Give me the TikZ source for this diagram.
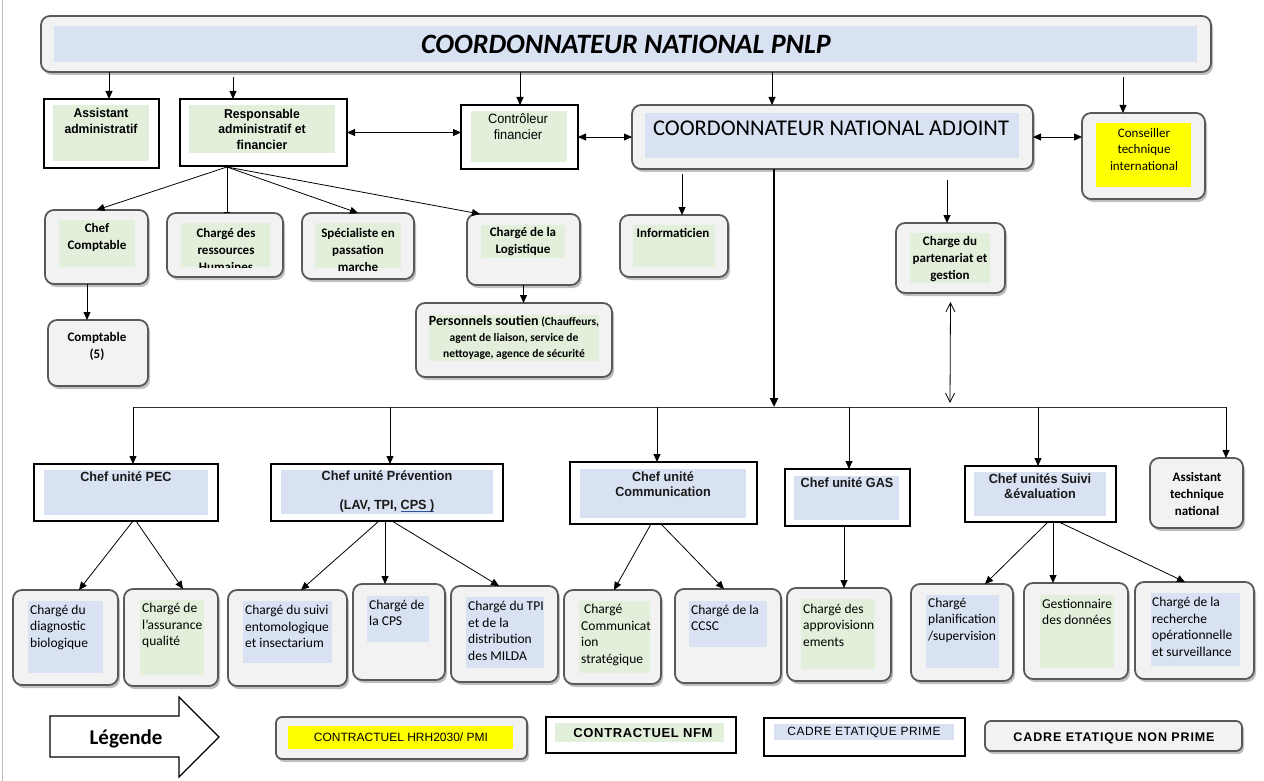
\documentclass[tikz,border=0pt]{standalone}
\usepackage{fontspec}
\setmainfont{Carlito}
\newfontfamily\arialf{Liberation Sans}
\newfontfamily\narrowf{Liberation Sans}[FakeStretch=0.95]
\usetikzlibrary{arrows.meta,shadows,calc}
\definecolor{gfill}{HTML}{F2F2F2}
\definecolor{gline}{HTML}{595959}
\definecolor{lblue}{HTML}{D9E2F3}
\definecolor{lgreen}{HTML}{E2EFDA}
\definecolor{yel}{HTML}{FFFF00}
\definecolor{ulblue}{HTML}{2F5597}
\definecolor{tdark}{HTML}{1A1A1A}
\newcommand\ftwo{\narrowf\bfseries\fontsize{12.8}{15.5}\selectfont}
\newcommand\ftwor{\narrowf\fontsize{13.5}{16}\selectfont}
\newcommand\fthree{\bfseries\fontsize{13}{17}\selectfont}
\newcommand\ffour{\narrowf\bfseries\fontsize{13.3}{15}\selectfont}
\newcommand\ffive{\fontsize{13.5}{16.5}\selectfont}
\newcommand\bluline[1]{\setbox0\hbox{#1}\rlap{\textcolor{ulblue}{\rule[-2.5pt]{\wd0}{0.8pt}}}\box0}
\newcommand\bx[6]{\node[bxs,#2,minimum width=#5pt-#3pt,minimum height=#6pt-#4pt] (#1) at (#3,#4) {};}
\tikzset{
  gb/.style={rounded corners=9pt, fill=gfill, draw=gline, line width=1.8pt,
    drop shadow={shadow xshift=2pt, shadow yshift=-3pt, fill=black!50, opacity=0.5}},
  gbs/.style={gb, rounded corners=6pt},
  sb/.style={draw=black, line width=1.1pt, fill=white},
  ib/.style={fill=lblue, draw=none},
  ig/.style={fill=lgreen, draw=none},
  iy/.style={fill=yel, draw=none},
  bxs/.style={anchor=north west, inner sep=0pt, outer sep=0pt},
  txt/.style={inner sep=0pt, align=center, text=black},
  txtl/.style={inner sep=0pt, align=left, anchor=west, text=black},
  arr/.style={line width=0.8pt, -{Triangle[length=8pt,width=7pt]}},
  darr/.style={line width=0.8pt, {Triangle[length=8pt,width=7pt]}-{Triangle[length=8pt,width=7pt]}},
  oarr/.style={line width=0.8pt, {Straight Barb[length=9pt,width=9pt]}-{Straight Barb[length=9pt,width=9pt]}},
}
\begin{document}
\begin{tikzpicture}[x=1pt,y=-1pt]
\fill[white] (0,0) rectangle (1264,781);
\useasboundingbox (0,0) rectangle (1264,781);
\draw[gray!50, line width=1pt] (2,0) -- (2,781);

% guide coordinates
\foreach \gx in {79,87,109,133,136,183,227,233,301,379,385,390,392,480,499,520,614,651,657,661,682,724,772,774,844,849,947,985,1038,1048,1053,1059,1123,1185,1225}
  {\coordinate (g\gx) at (\gx,0);}

% ---------- top ----------
\bx{top}{gb}{41}{16}{1211}{72}
\bx{topi}{ib}{54}{26}{1197}{62}
\node[txt,font=\bfseries\itshape\fontsize{28}{32}\selectfont] (ttl) at (626,44) {COORDONNATEUR NATIONAL PNLP};

% ---------- row 2 ----------
\bx{asst}{sb}{44}{99}{159}{168}
\bx{assti}{ig}{53}{105}{149}{161}
\node[txt,font=\ftwo] (tasst) at (101,121) {Assistant\\administratif};

\bx{rsp}{sb}{180}{99}{347}{166}
\bx{rspi}{ig}{189}{105}{335}{153}
\node[txt,font=\ftwo] (trsp) at (262,129) {Responsable\\administratif et\\financier};

\bx{ctl}{sb}{461}{105}{578}{169}
\bx{ctli}{ig}{471}{111}{567}{162}
\node[txt,font=\ftwor] (tctl) at (518,127) {Contrôleur\\financier};

\bx{cna}{gb}{632}{105}{1033}{169}
\bx{cnai}{ib}{645}{113}{1019}{158}
\node[txt,font=\fontsize{22.5}{26}\selectfont] (tcna) at (831,128) {COORDONNATEUR NATIONAL ADJOINT};

\bx{cti}{gb}{1082}{113}{1205}{199}
\bx{ctii}{iy}{1096}{123}{1191}{187}
\node[txt,font=\fontsize{13}{16.5}\selectfont] (tcti) at (1144,149.5) {Conseiller\\technique\\international};

% ---------- row 3 ----------
\bx{cc}{gb}{45}{210}{148}{284}
\bx{cci}{ig}{59}{220}{135}{267}
\node[txt,font=\fthree] (tcc) at (97,237.5) {Chef\\Comptable};

\bx{rh}{gb}{167}{213}{283}{277}
\bx{rhi}{ig}{181}{223}{270}{267}
\begin{scope}
\clip (rhi.north west) rectangle (rhi.south east);
\node[txt,font=\fthree] (trh) at (226,249.5) {Chargé des\\ressources\\Humaines};
\end{scope}

\bx{sp}{gb}{302}{213}{414}{279}
\bx{spi}{ig}{315}{223}{401}{268}
\node[txt,font=\fthree] (tsp) at (358,249.5) {Spécialiste en\\passation\\marche};

\bx{lg}{gb}{467}{214}{580}{285}
\bx{lgi}{ig}{481}{225}{565}{258}
\node[txt,font=\fthree] (tlg) at (523,242) {Chargé de la\\Logistique};

\bx{inf}{gb}{620}{215}{728}{277}
\bx{infi}{ig}{633}{225}{715}{267}
\node[txt,font=\fthree] (tinf) at (673,233) {Informaticien};

\bx{par}{gb}{896}{223}{1005}{293}
\bx{pari}{ig}{910}{233}{990}{283}
\node[txt,font=\fthree] (tpar) at (950,259) {Charge du\\partenariat et\\gestion};

\bx{c5}{gb}{48}{320}{148}{386}
\node[txt,font=\fthree] (tc5) at (97,346.5) {Comptable\\(5)};

\bx{pers}{gb}{416}{303}{612}{377}
\bx{persi}{ig}{429}{315}{599}{361}
\node[txt,font=\bfseries\fontsize{11.5}{16}\selectfont] (tpers) at (514,338) {{\fontsize{14}{16}\selectfont Personnels soutien} (Chauffeurs,\\agent de liaison, service de\\nettoyage, agence de sécurité};

% ---------- row 4 ----------
\bx{pec}{sb}{34}{464}{218}{521}
\bx{peci}{ib}{44}{470}{208}{515}
\node[txt,font=\ffour,text=tdark] (tpec) at (126,477) {Chef unité PEC};

\bx{prev}{sb}{271}{464}{503}{521}
\bx{previ}{ib}{281}{470}{493}{514}
\node[txt,font=\ffour,text=tdark] (tprev) at (387,491.5) {Chef unité Prévention\\[14pt](LAV, TPI, \bluline{CPS )}};

\bx{comm}{sb}{570}{462}{757}{524}
\bx{commi}{ib}{580}{469}{746}{518}
\node[txt,font=\ffour,text=tdark] (tcomm) at (663,484.5) {Chef unité\\Communication};

\bx{gas}{sb}{785}{469}{910}{526}
\bx{gasi}{ib}{794}{476}{899}{520}
\node[txt,font=\ffour,text=tdark] (tgas) at (847,483) {Chef unité GAS};

\bx{suivi}{sb}{965}{466}{1116}{522}
\bx{suivii}{ib}{974}{472}{1106}{516}
\node[txt,font=\ffour,text=tdark] (tsuivi) at (1040,486) {Chef unités Suivi\\\&évaluation};

\bx{atn}{gb}{1150}{458}{1243}{528}
\node[txt,font=\fthree] (tatn) at (1197,493.5) {Assistant\\technique\\national};

% ---------- row 5 ----------
\bx{diag}{gb}{13}{590}{118}{685}
\bx{diagi}{ib}{28}{601}{103}{673}
\node[txtl,font=\ffive] (tdiag) at (30,627) {Chargé du\\diagnostic\\biologique};

\bx{assur}{gb}{124}{589}{218}{686}
\bx{assuri}{ig}{140}{600}{204}{675}
\node[txtl,font=\ffive] (tassur) at (142,625.5) {Chargé de\\l’assurance\\qualité};

\bx{ento}{gb}{228}{590}{347}{686}
\bx{entoi}{ib}{243}{601}{332}{663}
\node[txtl,font=\ffive] (tento) at (245,626.5) {Chargé du suivi\\entomologique\\et insectarium};

\bx{cps}{gb}{353}{584}{445}{680}
\bx{cpsi}{ib}{367}{596}{429}{642}
\node[txtl,font=\ffive] (tcps) at (369,613) {Chargé de\\la CPS};

\bx{tpi}{gb}{451}{586}{558}{682}
\bx{tpii}{ib}{466}{597}{544}{668}
\node[txtl,font=\ffive] (ttpi) at (468,631) {Chargé du TPI\\et de la\\distribution\\des MILDA};

\bx{cstr}{gb}{564}{590}{661}{684}
\bx{cstri}{ig}{579}{601}{650}{673}
\node[txtl,font=\ffive] (tcstr) at (581,635) {\hspace{3pt}Chargé\\Communicat\\ion\\stratégique};

\bx{ccsc}{gb}{675}{589}{781}{683}
\bx{ccsci}{ib}{689}{601}{767}{647}
\node[txtl,font=\ffive] (tccsc) at (691,618) {Chargé de la\\CCSC};

\bx{appro}{gb}{787}{588}{891}{681}
\bx{approi}{ig}{801}{599}{875}{669}
\node[txtl,font=\ffive] (tappro) at (803,625) {Chargé des\\approvisionn\\ements};

\bx{plan}{gb}{911}{584}{1013}{681}
\bx{plani}{ib}{926}{595}{999}{668}
\node[txtl,font=\ffive] (tplan) at (928,620) {Chargé\\planification\\/supervision};

\bx{gest}{gb}{1024}{583}{1128}{679}
\bx{gesti}{ig}{1040}{595}{1114}{668}
\node[txtl,font=\ffive] (tgest) at (1042,612) {Gestionnaire\\des données};

\bx{rech}{gb}{1135}{582}{1254}{679}
\bx{rechi}{ib}{1151}{593}{1240}{666}
\node[txtl,font=\ffive] (trech) at (1152,627) {Chargé de la\\recherche\\opérationnelle\\et surveillance};

% ---------- legend ----------
\draw[line width=1.2pt, fill=white] (50,716) -- (179,716) -- (179,697) -- (219,737) -- (179,777) -- (179,757) -- (50,757) -- cycle;
\node[txt,font=\bfseries\fontsize{21}{24}\selectfont] (tleg) at (126,739) {Légende};

\bx{lhrh}{gbs}{276}{717}{527}{759}
\bx{lhrhi}{iy}{288}{726}{513}{749}
\node[txt,font=\arialf\fontsize{12}{14}\selectfont] (tlhrh) at (401,737) {CONTRACTUEL HRH2030/ PMI};

\bx{lnfm}{sb}{546}{717}{736}{753}
\bx{lnfmi}{ig}{555}{723}{724}{742}
\node[txt,font=\arialf\bfseries\fontsize{13}{15}\selectfont\addfontfeature{LetterSpace=5}] (tlnfm) at (643,733) {CONTRACTUEL NFM};

\bx{lpr}{sb}{764}{718}{965}{756}
\bx{lpri}{ib}{774}{724}{954}{740}
\node[txt,font=\arialf\fontsize{12}{14}\selectfont\addfontfeature{LetterSpace=4}] (tlpr) at (864,732) {CADRE ETATIQUE PRIME};

\bx{lnp}{gbs}{985}{721}{1242}{751}
\node[txt,font=\arialf\bfseries\fontsize{12.5}{14}\selectfont\addfontfeature{LetterSpace=7}] (tlnp) at (1114,738) {CADRE ETATIQUE NON PRIME};

% ---------- connectors ----------
\coordinate (f233) at (233,77);
\coordinate (f1123) at (1123,77);
\coordinate (f682) at (682,174);
\coordinate (f947) at (947,180);
\coordinate (o1) at (227,167);
\coordinate (hl) at (133,407);
\coordinate (hr) at (1226,407);
\coordinate (tk) at (774,407);
\coordinate (db) at (950,403);

\draw[arr] (g109 |- top.south) -- (g109 |- asst.north);
\draw[arr] (f233) -- (f233 |- rsp.north);
\draw[arr] (g520 |- top.south) -- (g520 |- ctl.north);
\draw[arr] (g772 |- top.south) -- (g772 |- cna.north);
\draw[arr] (f1123) -- (f1123 |- cti.north);

\draw[darr] (rsp.east) -- (rsp.east -| ctl.west);
\draw[darr] (ctl.east) -- (ctl.east -| cna.west);
\draw[darr] (cna.east) -- (cna.east -| cti.west);

\draw[arr] (o1) -- (cc.north);
\draw[line width=0.8pt, -{Bar[width=6pt]}] (o1) -- (o1 |- rh.north);
\draw[arr] (o1) -- (sp.north);
\draw[arr] (o1) -- (g480 |- lg.north);
\draw[arr] (g87 |- cc.south) -- (g87 |- c5.north);
\draw[arr] (lg.south) -- (lg.south |- pers.north);

\draw[arr] (f682) -- (f682 |- inf.north);
\draw[arr] (f947) -- (f947 |- par.north);

\draw[line width=2.2pt, -{Triangle[length=9pt,width=8pt]}] (g774 |- cna.south) -- (tk);
\draw[oarr] ([yshift=-9pt]par.south) -- (db);
\draw[line width=0.9pt, black!80] (hl) -- (hr);

\draw[arr] (hl) -- (hl |- pec.north);
\draw[arr] (g390 |- hl) -- (g390 |- prev.north);
\draw[arr] (g657 |- hl) -- (g657 |- comm.north);
\draw[arr] (g849 |- hl) -- (g849 |- gas.north);
\draw[arr] (g1038 |- hl) -- (g1038 |- suivi.north);
\draw[arr] (hr) -- (hr |- atn.north);

\draw[arr] (g133 |- pec.south) -- (g79 |- diag.north);
\draw[arr] (g136 |- pec.south) -- (g183 |- assur.north);
\draw[arr] (g379 |- prev.south) -- (g301 |- ento.north);
\draw[arr] (g385 |- prev.south) -- (g385 |- cps.north);
\draw[arr] (g392 |- prev.south) -- (g499 |- tpi.north);
\draw[arr] (g651 |- comm.south) -- (g614 |- cstr.north);
\draw[arr] (g661 |- comm.south) -- (g724 |- ccsc.north);
\draw[arr] (g844 |- gas.south) -- (g844 |- appro.north);
\draw[arr] (g1048 |- suivi.south) -- (g985 |- plan.north);
\draw[arr] (g1053 |- suivi.south) -- (g1053 |- gest.north);
\draw[arr] (g1059 |- suivi.south) -- (g1185 |- rech.north);
\end{tikzpicture}
\end{document}
